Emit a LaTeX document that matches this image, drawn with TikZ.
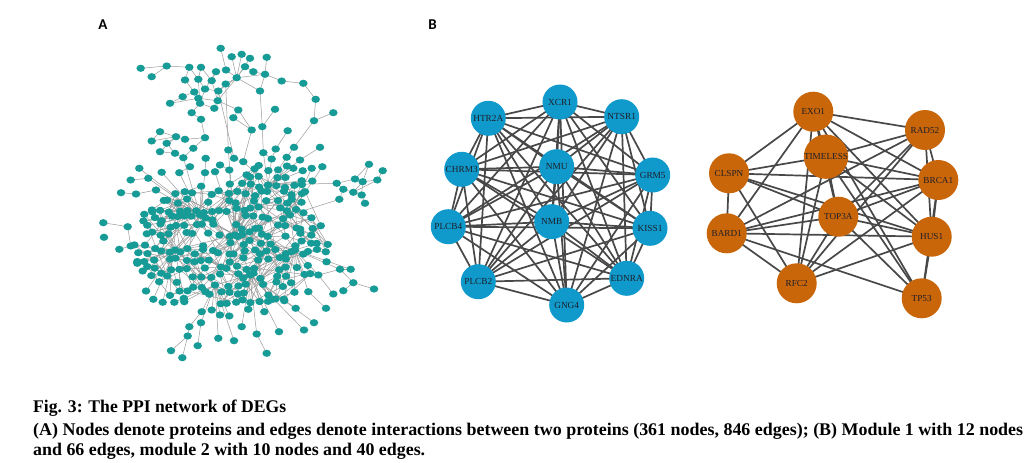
\documentclass[tikz,border=0pt]{standalone}
\usepackage{fontspec}
\usepackage{graphicx}
\usetikzlibrary{shapes.geometric}
\newfontfamily\capfont{Liberation Serif}
\newfontfamily\labsans{Carlito}
\newfontfamily\genefont{Liberation Serif}
\definecolor{blueM}{RGB}{16,154,204}
\definecolor{orangeM}{RGB}{201,102,10}
\definecolor{tealA}{RGB}{22,155,150}
\definecolor{edgeM}{RGB}{72,72,72}
\definecolor{edgeA}{RGB}{155,155,155}
\definecolor{geneText}{RGB}{30,30,40}
\tikzset{
  modA/.style={circle, fill=blueM, minimum size=35pt, inner sep=0pt, text=geneText, font=\genefont\fontsize{9.3}{9.5}\selectfont},
  modB/.style={circle, fill=orangeM, minimum size=40pt, inner sep=0pt, text=geneText, font=\genefont\fontsize{9.2}{9.5}\selectfont},
  pnode/.style={ellipse, fill=tealA, minimum width=8.5pt, minimum height=7.2pt, inner sep=0pt},
  pedge/.style={draw=edgeA, line width=0.5pt},
  medge/.style={draw=edgeM, line width=1.7pt},
  panel/.style={inner sep=0pt, font=\labsans\bfseries\fontsize{15}{15}\selectfont},
  captext/.style={anchor=base west, inner sep=0pt, font=\capfont\bfseries\fontsize{17.8}{20}\selectfont},
}
\begin{document}
\begin{tikzpicture}[x=1pt,y=-1pt]
\useasboundingbox[fill=white] (0,0) rectangle (1036,463);

% ---------------- Panel A ----------------
\foreach \x/\y [count=\i] in {
220.7/48.3, 231.7/56.7, 241.7/54.3, 250/58.3, 266.7/57.3, 140.7/68.3, 151.7/76.7, 166.7/66, 189.3/67.3, 201/67.3,
216/71.7, 226/70, 236.7/77.7, 245/66.7, 253.3/71.7, 265/74.3, 281.7/81, 303.3/83.3, 185/80, 198.3/79.3,
211.7/80.7, 225.7/84, 260/91, 205/89, 218.3/91, 194.3/92, 182.7/96.7, 198.3/98.3, 217.7/100.7, 170/103.3,
200/103.3, 191.7/112.7, 214.3/108.3, 238.3/110, 275/109.3, 315.7/99.3, 333.3/112.7, 201/119.3, 233.3/117.7, 314/120.7,
262.3/126.7, 251.7/130, 287.7/130.7, 160/131.7, 151.7/141, 166.7/143.3, 176/136.7, 185/139.3, 205/137.7, 193.3/148.3,
160/151.7, 175/153.3, 183.3/157.7, 228.3/150, 205.7/158.3, 234/158.3, 263.3/152.7, 275.7/149, 294/147.3, 320/147.3,
271.7/159, 286.7/157.3, 300/160, 190/166.7, 220/165, 243.3/161.7, 139.3/168.3, 161.7/172.3, 179.3/172.7, 205/172.7,
215/171.7, 229.3/170, 293.3/168.3, 302.7/170.7, 311.7/168.3, 322.3/166.7, 369/164.3, 382.7/170.7, 355/179, 362.7/181.7,
377.3/180, 336.7/183.3, 343.3/189.3, 353.3/192.3, 361.7/195, 339.3/199.3, 365/203.3, 312.3/181, 301.7/180.7, 305/191.7,
291.7/199.3, 130.7/180, 121/192.7, 136/194, 148.3/178.3, 156/190, 103.3/222.7, 127.7/226.7, 104/237.3, 119.3/249.3,
130.7/246, 144.3/214.3, 152.3/211.7, 161.7/220.7, 316.7/243.3, 340/269.3, 350.7/269.3, 353.3/282.7, 374/289, 343.3/290.7,
333.3/294, 318.3/275, 308.3/291.7, 326/308.3, 314/322.7, 304/330, 295.7/308.3, 284.3/300.7, 279/331.7, 266.7/353.3,
256.7/334, 272.7/299.3, 241.7/326.7, 234/340.7, 218.3/338.3, 201/322.7, 189.3/326.7, 187.7/336, 197.7/345.7, 171/350.7,
182.3/357.7, 229.3/316, 220/315, 211.7/310, 201.7/311.7, 264.3/311.7, 248.3/309.3, 146/291, 153.3/299.3, 162.7/302.3,
174.3/302.3, 184.3/301.7, 137.3/263.3, 142.7/271, 138.3/252.7,
268/185, 175/250, 235/235, 295/250, 215/285, 250/275, 200/215, 290/215}
  \coordinate (p\i) at (\x,\y);

% jittered core grid
\pgfmathsetseed{2718}
\foreach \ci in {0,...,25}{
  \foreach \ri in {0,...,19}{
    \pgfmathsetmacro{\px}{128+\ci*8.3+6*rnd-3}
    \pgfmathsetmacro{\py}{160+\ri*8.3+6*rnd-3}
    \pgfmathsetmacro{\dA}{((\px-230)/100)^2+((\py-246)/64)^2}
    \pgfmathsetmacro{\dB}{((\px-272)/32)^2+((\py-190)/28)^2}
    \pgfmathtruncatemacro{\kp}{ifthenelse(or(\dA<1,\dB<1),ifthenelse(rnd<0.72,1,0),0)}
    \pgfmathtruncatemacro{\hb}{ifthenelse(\px<205, ifthenelse(\py<232,152,147), ifthenelse(\px<260, ifthenelse(\py<258,148,ifthenelse(\py<282,151,150)), ifthenelse(\py<205,146,ifthenelse(\py<232,153,149))))}
    \expandafter\xdef\csname kp\ci-\ri\endcsname{\kp}
    \expandafter\xdef\csname hb\ci-\ri\endcsname{\hb}
    \coordinate (g\ci-\ri) at (\px,\py);
  }
}

% grid edges
\foreach \ci in {0,...,25}{
  \foreach \ri in {0,...,19}{
    \ifnum\csname kp\ci-\ri\endcsname=1
      \foreach \t in {1,2,3}{
        \pgfmathtruncatemacro{\gc}{\ci+ifthenelse(\t==3,random(0,12)-6,random(0,6)-3)}
        \pgfmathtruncatemacro{\gr}{\ri+ifthenelse(\t==3,random(0,12)-6,random(0,6)-3)}
        \ifcsname kp\gc-\gr\endcsname
          \ifnum\csname kp\gc-\gr\endcsname=1
            \draw[pedge] (g\ci-\ri) -- (g\gc-\gr);
          \fi
        \fi
      }
      \pgfmathtruncatemacro{\hp}{rnd<0.25}
      \ifnum\hp=1
        \draw[pedge] (g\ci-\ri) -- (p\csname hb\ci-\ri\endcsname);
      \fi
    \fi
  }
}

% peripheral edges
\foreach \a/\b in {
6/8, 7/8, 8/9, 9/19, 9/20, 10/20, 10/21, 11/21, 11/24, 1/12, 12/13, 2/13, 3/13, 4/13, 14/13, 15/16, 5/16, 16/13, 14/15, 16/17, 17/18, 18/36, 36/40, 37/40, 40/59, 13/22, 13/23, 16/23, 23/41, 41/57, 35/41, 42/34, 34/29, 39/34, 39/42, 43/58, 22/25, 13/25, 19/26, 20/24, 24/25, 21/29, 26/27, 26/28, 27/30, 28/31, 20/31, 24/31, 31/32, 31/33, 33/29, 25/29, 28/29, 30/28, 32/38, 38/49, 25/56, 22/54, 13/29, 42/66, 57/146,
44/47, 45/47, 46/47, 47/48, 48/49, 49/50, 47/51, 51/52, 52/53, 46/52, 44/45, 50/53, 53/152, 54/148, 55/70, 56/66, 57/61, 58/61, 59/62, 60/63, 62/146, 61/146, 63/146, 64/69, 65/72, 66/146, 67/152, 68/152, 69/152, 70/152, 71/148, 72/148, 73/146, 74/146, 75/153, 76/153, 54/56,
77/79, 77/80, 78/81, 79/80, 80/81, 79/82, 81/84, 82/83, 83/84, 84/85, 85/87, 80/84, 83/86, 82/146, 86/153, 88/146, 89/146, 90/153, 91/153, 80/85,
92/95, 93/94, 94/96, 95/152, 96/152, 97/98, 98/101, 100/101, 101/147, 102/147, 103/147, 104/147,
105/149, 106/112, 107/106, 108/106, 109/108, 110/108, 111/112, 112/149, 113/149, 114/113, 115/118, 116/151, 117/151, 118/151, 119/151, 120/121, 121/151, 122/151, 106/149, 107/149,
123/151, 124/150, 125/150, 126/150, 127/135, 128/127, 129/126, 130/128, 131/128, 132/150, 133/150, 134/150, 135/150, 136/151, 137/151,
138/147, 139/147, 140/147, 141/150, 142/150, 143/147, 144/147, 145/147,
146/148, 146/153, 148/152, 148/151, 147/152, 147/150, 150/151, 149/151, 149/153, 148/149, 147/148}
  \draw[pedge] (p\a) -- (p\b);

% grid nodes
\foreach \ci in {0,...,25}{
  \foreach \ri in {0,...,19}{
    \ifnum\csname kp\ci-\ri\endcsname=1
      \node[pnode] (gn\ci-\ri) at (g\ci-\ri) {};
    \fi
  }
}
% peripheral nodes
\foreach \i in {1,...,153}
  \node[pnode] (pn\i) at (p\i) {};

% ---------------- Panel B: node centres ----------------
\foreach \n/\x/\y in {XCR1/560/102, HTR2A/488.3/118.3, NTSR1/621.7/116.7, CHRM3/461.7/169.3, NMU/556.7/166.7, GRM5/652.7/175, PLCB4/448.3/226.7, NMB/551.7/221.7, KISS1/650/228.3, PLCB2/478.3/281.7, EDNRA/626.7/278.3, GNG4/566.7/305,
EXO1/813.3/111.7, RAD52/925/130, TIMELESS/826/156.7, CLSPN/729/173.3, BRCA1/938.3/180, TOP3A/838.3/216.7, BARD1/726.7/233.3, HUS1/931.7/236.7, RFC2/796.7/283.3, TP53/921.7/298.3}
  \coordinate (c\n) at (\x,\y);

% module 1 edges (complete graph)
\foreach \a [count=\i] in {XCR1,HTR2A,NTSR1,CHRM3,NMU,GRM5,PLCB4,NMB,KISS1,PLCB2,EDNRA,GNG4}{
  \foreach \b [count=\j] in {XCR1,HTR2A,NTSR1,CHRM3,NMU,GRM5,PLCB4,NMB,KISS1,PLCB2,EDNRA,GNG4}{
    \ifnum\i<\j
      \draw[medge] (c\a) -- (c\b);
    \fi
  }
}
% module 2 edges
\foreach \a/\b in {
EXO1/RAD52, EXO1/TIMELESS, EXO1/CLSPN, EXO1/BRCA1, EXO1/BARD1, EXO1/HUS1, EXO1/RFC2, EXO1/TP53, EXO1/TOP3A,
RAD52/TIMELESS, RAD52/BRCA1, RAD52/TOP3A, RAD52/BARD1, RAD52/HUS1, RAD52/RFC2,
TIMELESS/CLSPN, TIMELESS/BRCA1, TIMELESS/TOP3A, TIMELESS/HUS1, TIMELESS/RFC2, TIMELESS/TP53,
CLSPN/BRCA1, CLSPN/TOP3A, CLSPN/BARD1, CLSPN/HUS1, CLSPN/RFC2,
BRCA1/TOP3A, BRCA1/BARD1, BRCA1/HUS1, BRCA1/RFC2, BRCA1/TP53,
TOP3A/BARD1, TOP3A/HUS1, TOP3A/RFC2, TOP3A/TP53,
BARD1/HUS1, BARD1/RFC2, BARD1/TP53,
HUS1/RFC2, HUS1/TP53}
  \draw[medge] (c\a) -- (c\b);

% nodes on top
\foreach \n in {XCR1,HTR2A,NTSR1,CHRM3,NMU,GRM5,PLCB4,NMB,KISS1,PLCB2,EDNRA,GNG4}
  \node[modA] (\n) at (c\n) {\n};
\foreach \n in {EXO1,RAD52,CLSPN,BRCA1,BARD1,HUS1,RFC2,TP53,TOP3A,TIMELESS}
  \node[modB] (\n) at (c\n) {\n};

% ---------------- Labels & caption ----------------
\node[panel] (labA) at (103,24.5) {A};
\node[panel] (labB) at (432.5,24.5) {B};
\node[captext] (cap1) at (33,412) {\resizebox{253pt}{\height}{Fig. 3: The PPI network of DEGs}};
\node[captext] (cap2) at (33,435) {\resizebox{990pt}{\height}{(A) Nodes denote proteins and edges denote interactions between two proteins (361 nodes, 846 edges); (B) Module 1 with 12 nodes}};
\node[captext] (cap3) at (33,455) {\resizebox{392pt}{\height}{and 66 edges, module 2 with 10 nodes and 40 edges.}};
\end{tikzpicture}
\end{document}
